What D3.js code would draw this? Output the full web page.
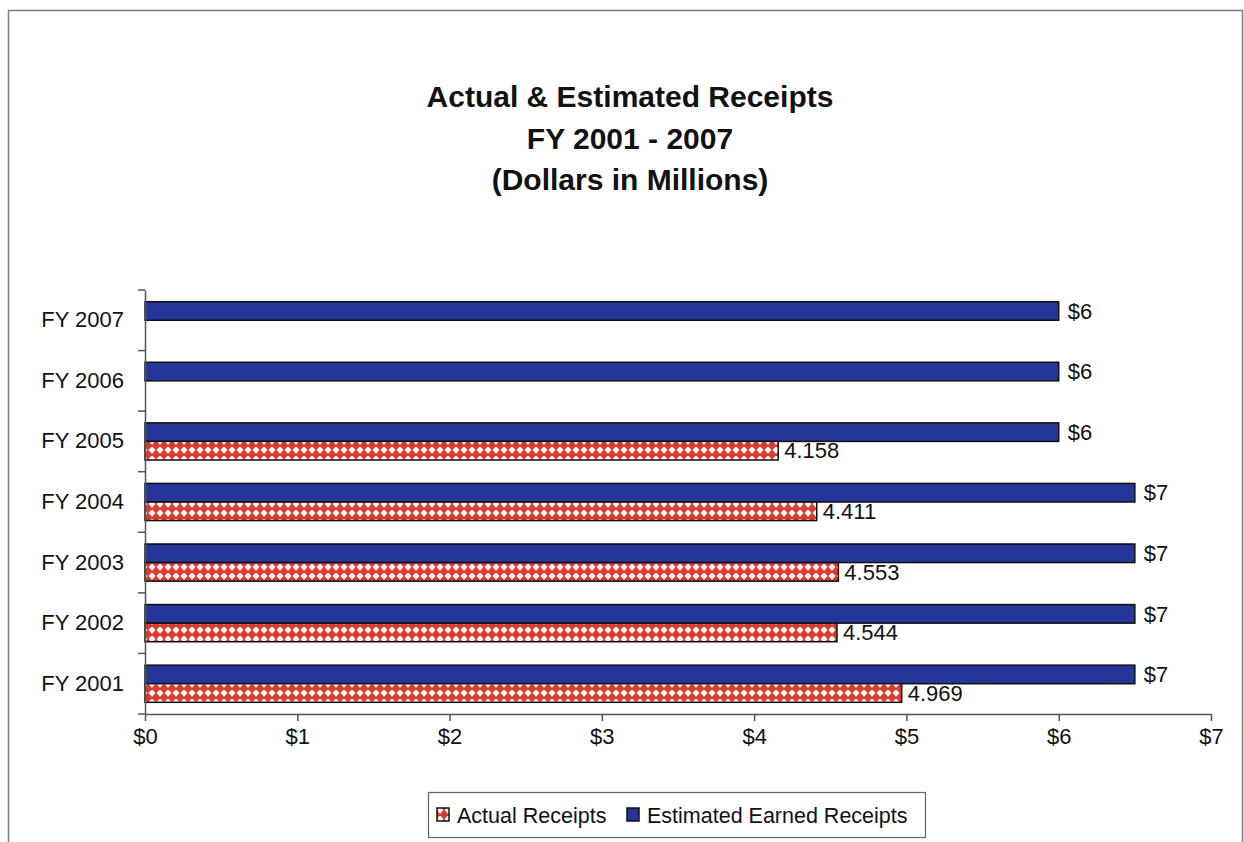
<!DOCTYPE html>
<html>
<head>
<meta charset="utf-8">
<script src="https://cdn.jsdelivr.net/npm/d3@7"></script>
<style>
  html, body { margin: 0; padding: 0; background: #ffffff; }
  svg { display: block; }
  text { font-family: "Liberation Sans", Arial, sans-serif; fill: #111; }
</style>
</head>
<body>
<svg id="chart" width="1244" height="842"></svg>
<script>
// ---- data ----
const titleLines = ["Actual & Estimated Receipts", "FY 2001 - 2007", "(Dollars in Millions)"];
const categories = ["FY 2001", "FY 2002", "FY 2003", "FY 2004", "FY 2005", "FY 2006", "FY 2007"];
const actualReceipts = [4.969, 4.544, 4.553, 4.411, 4.158, null, null];
const estimatedReceipts = [6.5, 6.5, 6.5, 6.5, 6.0, 6.0, 6.0];
const estimatedLabels = ["$7", "$7", "$7", "$7", "$6", "$6", "$6"];
const xTickValues = [0, 1, 2, 3, 4, 5, 6, 7];
const xTickLabels = ["$0", "$1", "$2", "$3", "$4", "$5", "$6", "$7"];
const seriesNames = ["Actual Receipts", "Estimated Earned Receipts"];

const svg = d3.select("#chart");
const blue = "#25359a";
const red = "#dd3a30";

// pattern for actual receipts
const defs = svg.append("defs");
const pat = defs.append("pattern")
  .attr("id", "diamonds").attr("patternUnits", "userSpaceOnUse")
  .attr("width", 8).attr("height", 9);
pat.append("rect").attr("width", 8).attr("height", 9).attr("fill", "#ffffff");
pat.append("path").attr("d", "M4,-0.6 L8.6,4.5 L4,9.6 L-0.6,4.5 Z").attr("fill", red);

// frame
svg.append("path")
  .attr("d", "M8.5,850 L8.5,10.5 L1242.5,10.5 L1242.5,850")
  .attr("fill", "none").attr("stroke", "#7a7a7a").attr("stroke-width", 1.5);

// title
svg.append("g").selectAll("text").data(titleLines).join("text")
  .attr("x", 630).attr("y", (d, i) => 107 + i * 41.5)
  .attr("text-anchor", "middle")
  .attr("font-size", 30).attr("font-weight", "bold")
  .text(d => d);

// scales
const x = d3.scaleLinear().domain([0, 7]).range([145, 1211]);
const y = d3.scaleBand().domain(categories.slice().reverse()).range([290, 714]);
const y1 = d3.scaleBand().domain(["est", "act"]).range([0, y.bandwidth()]).paddingOuter(0.63);

const rows = categories.map((c, i) => ({ c, act: actualReceipts[i], est: estimatedReceipts[i], lab: estimatedLabels[i] }));

// bars
const g = svg.append("g");
g.selectAll("rect.est").data(rows).join("rect").attr("class", "est")
  .attr("x", x(0)).attr("y", d => y(d.c) + y1("est"))
  .attr("width", d => x(d.est) - x(0)).attr("height", y1.bandwidth())
  .attr("fill", blue).attr("stroke", "#111").attr("stroke-width", 1.5);

g.selectAll("rect.act").data(rows.filter(d => d.act != null)).join("rect").attr("class", "act")
  .attr("x", x(0)).attr("y", d => y(d.c) + y1("act"))
  .attr("width", d => x(d.act) - x(0)).attr("height", y1.bandwidth())
  .attr("fill", "url(#diamonds)").attr("stroke", "#111").attr("stroke-width", 1.5);

// value labels
g.selectAll("text.estl").data(rows).join("text").attr("class", "estl")
  .attr("x", d => x(d.est) + 9).attr("y", d => y(d.c) + y1("est") + y1.bandwidth() / 2)
  .attr("dy", "0.35em").attr("font-size", 22).text(d => d.lab);

g.selectAll("text.actl").data(rows.filter(d => d.act != null)).join("text").attr("class", "actl")
  .attr("x", d => x(d.act) + 6).attr("y", d => y(d.c) + y1("act") + y1.bandwidth() / 2)
  .attr("dy", "0.35em").attr("font-size", 22).text(d => d3.format(".3f")(d.act));

// x axis
const xAxis = svg.append("g").attr("transform", "translate(0,714)")
  .call(d3.axisBottom(x).tickValues(xTickValues).tickSize(7).tickSizeOuter(0)
    .tickFormat((d, i) => xTickLabels[i]));
xAxis.select(".domain").attr("stroke", "#555").attr("stroke-width", 1.5);
xAxis.selectAll(".tick line").attr("stroke", "#555").attr("stroke-width", 1.5);
xAxis.selectAll(".tick text").attr("font-size", 22).attr("dy", "0.2em").attr("y", 26)
  .attr("font-family", "Liberation Sans, Arial, sans-serif").attr("fill", "#111");

// y axis
const yAxis = svg.append("g").attr("transform", "translate(145,0)")
  .call(d3.axisLeft(y).tickSize(0).tickPadding(21));
yAxis.select(".domain").attr("stroke", "#555").attr("stroke-width", 1.5);
yAxis.selectAll(".tick text").attr("font-size", 22)
  .attr("font-family", "Liberation Sans, Arial, sans-serif").attr("fill", "#111");
const bounds = y.domain().map(c => y(c)).concat([y.range()[1]]);
yAxis.selectAll("line.bt").data(bounds).join("line").attr("class", "bt")
  .attr("x1", -7).attr("x2", 0).attr("y1", d => d).attr("y2", d => d)
  .attr("stroke", "#555").attr("stroke-width", 1.5);

// legend
const leg = svg.append("g");
leg.append("rect").attr("x", 428.5).attr("y", 792.5).attr("width", 497).attr("height", 45)
  .attr("fill", "#fff").attr("stroke", "#666").attr("stroke-width", 1.2);
const legItems = [
  { name: seriesNames[0], fill: "url(#diamonds)", mx: 437, tx: 457 },
  { name: seriesNames[1], fill: blue, mx: 627, tx: 647 }
];
leg.selectAll("rect.m").data(legItems).join("rect").attr("class", "m")
  .attr("x", d => d.mx).attr("y", 808).attr("width", 12).attr("height", 13)
  .attr("fill", d => d.fill).attr("stroke", "#111").attr("stroke-width", 1.5);
leg.selectAll("text").data(legItems).join("text")
  .attr("x", d => d.tx).attr("y", 815).attr("dy", "0.35em").attr("font-size", 21.5)
  .text(d => d.name);
</script>
</body>
</html>
